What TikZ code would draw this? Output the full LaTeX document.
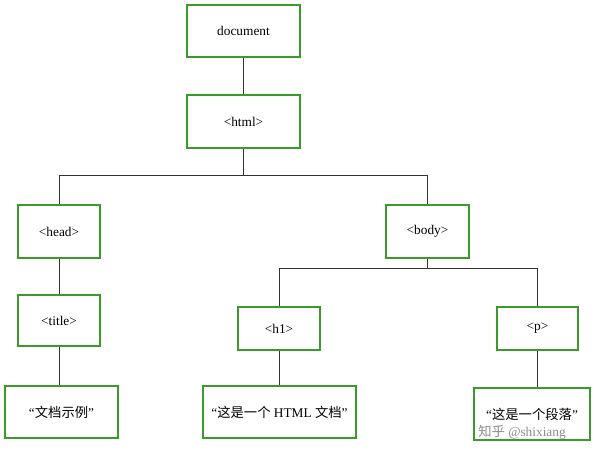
\documentclass[tikz,border=0pt]{standalone}
\usepackage{fontspec}
\setmainfont{Liberation Serif}
\newfontfamily\cjk{Noto Sans CJK SC}
\definecolor{bgreen}{HTML}{3A9A2A}
\begin{document}
\begin{tikzpicture}[x=0.75pt,y=-0.75pt,
  bx/.style={draw=bgreen, line width=2.2pt, fill=white, inner sep=0pt, font=\fontsize{10}{12}\selectfont},
  ln/.style={draw=black!80, line width=0.6pt}]
\useasboundingbox (0,0) rectangle (600,458);
\fill[white] (0,0) rectangle (600,458);
\newcommand\bxat[6]{\node[bx, minimum width=#3*0.75pt, minimum height=#4*0.75pt] (#5) at (#1,#2) {#6};}
\bxat{243.5}{31}{113}{52}{doc}{document}
\bxat{243.5}{121.5}{113}{53}{html}{<html>}
\bxat{59}{231.5}{82}{53}{head}{<head>}
\bxat{427.5}{231.5}{83}{53}{body}{<body>}
\bxat{59}{320.5}{82}{51}{title}{<title>}
\bxat{279}{328.5}{82}{43}{h1}{<h1>}
\bxat{537.5}{328.5}{81}{43}{p}{<p>}
\bxat{61.5}{412}{113}{52}{t1}{“{\cjk 文档示例}”}
\bxat{279.5}{412}{153}{52}{t2}{“{\cjk 这是一个} HTML {\cjk 文档}”}
\bxat{532}{414}{116}{52}{t3}{“{\cjk 这是一个段落}”}
\coordinate (j1) at (243.5,175);
\coordinate (j2) at (427.5,268);
\draw[ln] (doc) -- (html);
\draw[ln] (html) -- (j1);
\draw[ln] (head.north) -- (head.north|-j1) -- (body.north|-j1) -- (body.north);
\draw[ln] (body) -- (j2);
\draw[ln] (h1.north) -- (h1.north|-j2) -- (p.north|-j2) -- (p.north);
\draw[ln] (head) -- (title);
\draw[ln] (title) -- (title|-t1.north);
\draw[ln] (h1) -- (h1|-t2.north);
\draw[ln] (p) -- (p|-t3.north);
\node[text=black!45, font=\fontsize{10}{12}\selectfont] (wm) at (522,432) {{\cjk 知乎} @shixiang};
\end{tikzpicture}
\end{document}
